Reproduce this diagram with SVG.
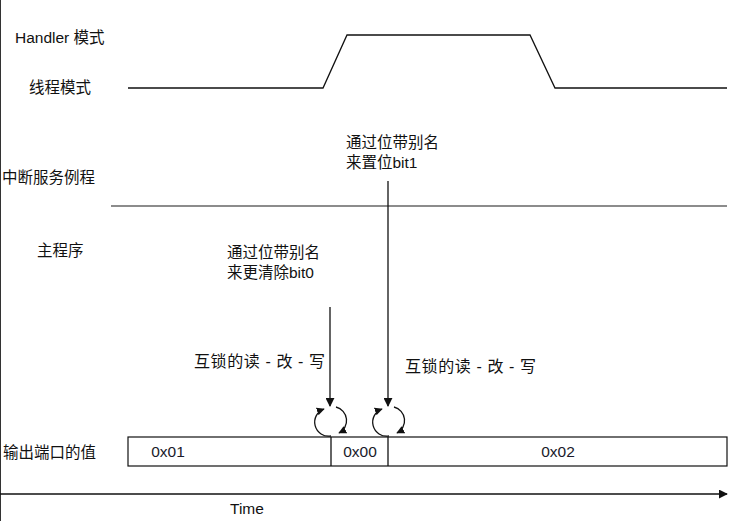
<svg xmlns="http://www.w3.org/2000/svg" width="735" height="521" viewBox="0 0 735 521">
<defs>
<style>
text{font-family:"Liberation Sans","Noto Sans CJK SC",sans-serif;font-size:15.5px;fill:#111}
.rmw{font-size:16px;letter-spacing:0.6px}
.ln{stroke:#111;stroke-width:1.3;fill:none}
.val{fill:#1a1a2a}
</style>
<marker id="ah" viewBox="0 0 10 10" refX="9" refY="5" markerWidth="9" markerHeight="9" markerUnits="userSpaceOnUse" orient="auto"><path d="M0,0 L10,5 L0,10 z" fill="#111"/></marker>
<marker id="ahs" viewBox="0 0 10 10" refX="9" refY="5" markerWidth="8" markerHeight="8" markerUnits="userSpaceOnUse" orient="auto"><path d="M0,0 L10,5 L0,10 z" fill="#111"/></marker>
</defs>
<rect width="735" height="521" fill="#fff"/>
<line x1="0.5" y1="0" x2="0.5" y2="521" stroke="#333" stroke-width="1"/>
<g id="labels">
<text x="15" y="43">Handler 模式</text>
<text x="29" y="93">线程模式</text>
<text x="2" y="183">中断服务例程</text>
<text x="37" y="256">主程序</text>
<text x="3" y="458">输出端口的值</text>
<text x="230" y="514">Time</text>
</g>
<g id="waveform">
<polyline class="ln" points="128,88 323,88 347,35 530,35 555,88 727,88"/>
</g>
<line x1="111" y1="206" x2="727" y2="206" stroke="#666" stroke-width="1.3"/>
<g id="port-values">
<rect x="128" y="437" width="599" height="29" fill="none" stroke="#111" stroke-width="1.2"/>
<line class="ln" x1="331" y1="437" x2="331" y2="466"/>
<line class="ln" x1="388" y1="437" x2="388" y2="466"/>
<text class="val" x="168" y="457" text-anchor="middle">0x01</text>
<text class="val" x="360" y="457" text-anchor="middle">0x00</text>
<text class="val" x="558" y="457" text-anchor="middle">0x02</text>
</g>
<g id="note-set">
<text x="346" y="148">通过位带别名</text>
<text x="346" y="168">来置位bit1</text>
</g>
<g id="note-clear">
<text x="227" y="258">通过位带别名</text>
<text x="227" y="278">来更清除bit0</text>
</g>
<g id="rmw1"><text class="rmw" x="194" y="367">互锁的读 - 改 - 写</text></g>
<g id="rmw2"><text class="rmw" x="405" y="372">互锁的读 - 改 - 写</text></g>
<g id="connectors">
<line class="ln" x1="388" y1="181" x2="388" y2="406" marker-end="url(#ah)"/>
<line class="ln" x1="330" y1="307" x2="330" y2="406" marker-end="url(#ah)"/>
<path class="ln" d="M331,436 A14,14 0 0 1 324,409" marker-end="url(#ahs)"/>
<path class="ln" d="M336,407 A14,14 0 0 1 339,433" marker-end="url(#ahs)"/>
<path class="ln" d="M389,436 A14,14 0 0 1 382,409" marker-end="url(#ahs)"/>
<path class="ln" d="M394,407 A14,14 0 0 1 397,433" marker-end="url(#ahs)"/>
<line class="ln" x1="0" y1="494" x2="727" y2="494" marker-end="url(#ah)"/>
</g>
</svg>
